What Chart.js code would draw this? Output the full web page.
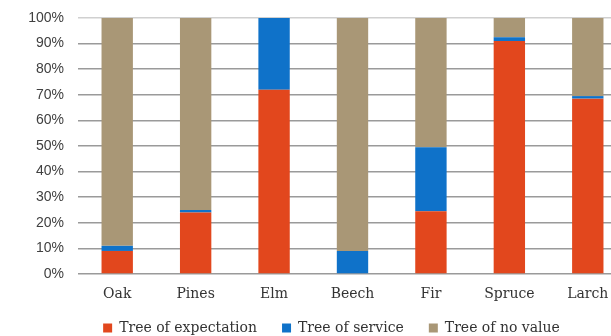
<!DOCTYPE html>
<html>
<head>
<meta charset="utf-8">
<script src="https://cdn.jsdelivr.net/npm/chart.js@4"></script>
<style>
  html, body { margin: 0; padding: 0; background: #fff; overflow: hidden; }
  #wrap { width: 627px; height: 336px; position: relative; }
</style>
</head>
<body>
<div id="wrap"><canvas id="chart"></canvas></div>
<script>
// Data
const categories = ['Oak', 'Pines', 'Elm', 'Beech', 'Fir', 'Spruce', 'Larch'];
const expectation = [9, 24, 72, 0, 24.5, 91, 68.5];
const service = [2, 1, 28, 9, 25, 1.5, 1];
const noValue = [89, 75, 0, 91, 50.5, 7.5, 30.5];
const yTicks = [0, 10, 20, 30, 40, 50, 60, 70, 80, 90, 100];

const serif = '"DejaVu Serif", "Liberation Serif", serif';
const sans = '"Liberation Sans", Arial, sans-serif';

// legend: fixed height, nudged to sit where the original one is
const legendTweak = {
    id: 'legendTweak',
    afterInit(chart) {
        const lg = chart.legend;
        const fit = lg.fit;
        lg.fit = function () {
            fit.call(this);
            this.height = 35;
        };
    },
    afterLayout(chart) {
        const lg = chart.legend;
        lg.top -= 5;
        lg.left += 18;
        lg.right += 18;
    }
};

const ctx = document.getElementById('chart').getContext('2d');
new Chart(ctx, {
    type: 'bar',
    data: {
        labels: categories,
        datasets: [
            { label: 'Tree of expectation', data: expectation, backgroundColor: '#e2471d' },
            { label: 'Tree of service', data: service, backgroundColor: '#0f72c9' },
            { label: 'Tree of no value', data: noValue, backgroundColor: '#a99776' }
        ]
    },
    options: {
        responsive: true,
        maintainAspectRatio: false,
        animation: false,
        datasets: { bar: { barPercentage: 0.4, categoryPercentage: 1 } },
        layout: { padding: { top: 18, right: 0, left: 0, bottom: 0 } },
        scales: {
            x: {
                stacked: true,
                afterFit: (scale) => { scale.height = 27; },
                grid: { display: false, drawTicks: false },
                border: { display: false },
                ticks: { color: '#333', font: { family: serif, size: 14 }, padding: 12 }
            },
            y: {
                stacked: true,
                min: 0,
                max: 100,
                afterFit: (scale) => {
                    scale.width = 78;
                    scale.paddingTop = 0;
                    scale.paddingBottom = 0;
                },
                afterBuildTicks: (scale) => { scale.ticks = yTicks.map(v => ({ value: v })); },
                grid: {
                    color: (c) => c.tick && c.tick.value === 100 ? '#d0d0d0' : '#9a9a9a',
                    lineWidth: 1.5,
                    drawTicks: false
                },
                border: { display: false },
                ticks: {
                    color: '#404040',
                    font: { family: sans, size: 14 },
                    padding: 14,
                    callback: (v) => v + '%'
                }
            }
        },
        plugins: {
            legend: {
                position: 'bottom',
                labels: {
                    boxWidth: 9,
                    boxHeight: 9,
                    padding: 25,
                    color: '#333',
                    font: { family: serif, size: 14 }
                }
            },
            tooltip: { enabled: false }
        }
    },
    plugins: [legendTweak]
});
</script>
</body>
</html>
